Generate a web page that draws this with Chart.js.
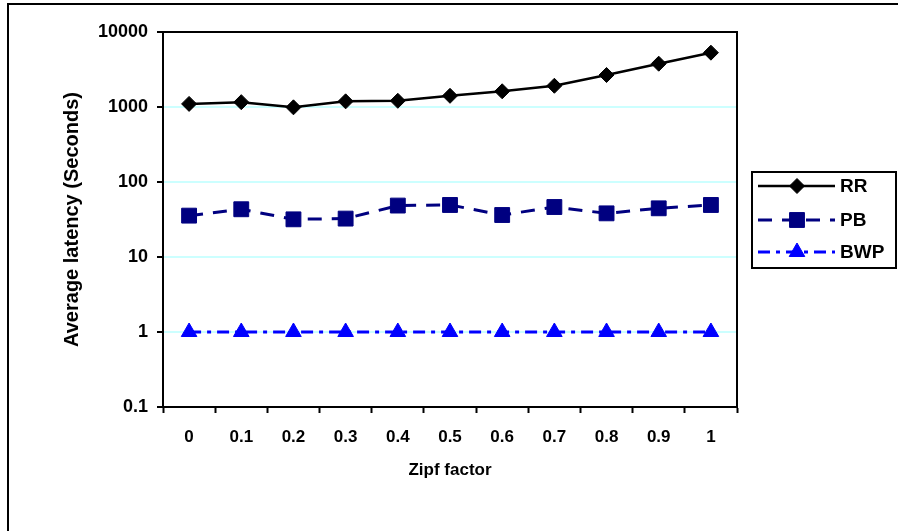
<!DOCTYPE html>
<html>
<head>
<meta charset="utf-8">
<script src="https://cdn.jsdelivr.net/npm/chart.js@4.4.1/dist/chart.umd.min.js"></script>
<style>
  body { margin: 0; background: #fff; }
  #wrap { width: 898px; height: 531px; }
</style>
</head>
<body>
<div id="wrap"><canvas id="grafico" width="898" height="531"></canvas></div>
<script>
// datos
var zipf = ["0", "0.1", "0.2", "0.3", "0.4", "0.5", "0.6", "0.7", "0.8", "0.9", "1"];
var rr = [1100, 1160, 990, 1190, 1210, 1410, 1620, 1920, 2670, 3780, 5300];
var pb = [35.6, 43.3, 31.8, 32.5, 48.5, 49.4, 36.3, 46.4, 38.2, 44.6, 49.4];
var bwp = [1, 1, 1, 1, 1, 1, 1, 1, 1, 1, 1];
var yTicks = [0.1, 1, 10, 100, 1000, 10000];

var fuente = "'Liberation Sans', Arial, sans-serif";

// marco exterior, borde del area y leyenda
var extras = {
  id: "extras",
  beforeDraw: function (chart) {
    var ctx = chart.ctx;
    ctx.save();
    ctx.fillStyle = "#fff";
    ctx.fillRect(0, 0, chart.width, chart.height);
    ctx.strokeStyle = "#000";
    ctx.lineWidth = 2;
    ctx.beginPath();
    ctx.moveTo(8, 531);
    ctx.lineTo(8, 4);
    ctx.lineTo(898, 4);
    ctx.stroke();
    ctx.restore();
  },
  beforeDatasetsDraw: function (chart) {
    var a = chart.chartArea;
    var ctx = chart.ctx;
    ctx.save();
    ctx.strokeStyle = "#000";
    ctx.lineWidth = 2;
    ctx.strokeRect(a.left, a.top, a.right - a.left, a.bottom - a.top);
    ctx.restore();
  },
  afterDraw: function (chart) {
    var ctx = chart.ctx;
    ctx.save();
    ctx.strokeStyle = "#000";
    ctx.lineWidth = 2;
    ctx.strokeRect(752, 172, 144, 96);
    var filas = [186, 220, 252];
    chart.data.datasets.forEach(function (ds, i) {
      var y = filas[i];
      ctx.save();
      ctx.strokeStyle = ds.borderColor;
      ctx.lineWidth = ds.borderWidth;
      ctx.setLineDash(ds.borderDash || []);
      ctx.beginPath();
      ctx.moveTo(758, y);
      ctx.lineTo(835, y);
      ctx.stroke();
      ctx.setLineDash([]);
      ctx.fillStyle = ds.pointBackgroundColor;
      ctx.strokeStyle = ds.borderColor;
      ctx.lineWidth = 1;
      Chart.helpers.drawPoint(ctx, {
        pointStyle: ds.pointStyle,
        radius: ds.pointRadius,
        rotation: 0,
        borderWidth: 1
      }, 797, y);
      ctx.restore();
      ctx.fillStyle = "#000";
      ctx.font = "bold 19px " + fuente;
      ctx.textBaseline = "middle";
      ctx.fillText(ds.label, 840, y + 1);
    });
    ctx.restore();
  }
};

var config = {
  type: "line",
  data: {
    labels: zipf,
    datasets: [{
      label: "RR",
      data: rr,
      borderColor: "#000000",
      backgroundColor: "#000000",
      pointBackgroundColor: "#000000",
      borderWidth: 2.5,
      pointStyle: "rectRot",
      pointRadius: 7.5,
      pointBorderWidth: 1
    }, {
      label: "PB",
      data: pb,
      borderColor: "#000080",
      backgroundColor: "#000080",
      pointBackgroundColor: "#000080",
      borderWidth: 3,
      borderDash: [14, 10],
      pointStyle: "rect",
      pointRadius: 10.5,
      pointBorderWidth: 1
    }, {
      label: "BWP",
      data: bwp,
      borderColor: "#0000ff",
      backgroundColor: "#0000ff",
      pointBackgroundColor: "#0000ff",
      borderWidth: 3,
      borderDash: [12, 6, 4, 6],
      pointStyle: "triangle",
      pointRadius: 9,
      pointBorderWidth: 1
    }]
  },
  options: {
    responsive: false,
    animation: false,
    layout: { padding: { left: 0, top: 32, right: 161, bottom: 0 } },
    plugins: {
      legend: { display: false },
      tooltip: { enabled: false }
    },
    scales: {
      x: {
        offset: true,
        grid: {
          offset: true,
          drawOnChartArea: false,
          tickColor: "#000",
          tickWidth: 2,
          tickLength: 6
        },
        border: { color: "#000", width: 2 },
        ticks: {
          color: "#000",
          padding: 14,
          maxRotation: 0,
          font: { family: fuente, size: 17, weight: "bold" }
        },
        title: {
          display: true,
          text: "Zipf factor",
          color: "#000",
          padding: { top: 0, bottom: 50 },
          font: { family: fuente, size: 17, weight: "bold" }
        },
        afterFit: function (scale) { scale.height = 124; }
      },
      y: {
        type: "logarithmic",
        min: 0.1,
        max: 10000,
        grid: {
          color: "#ccffff",
          lineWidth: 2,
          tickColor: "#000",
          tickWidth: 2,
          tickLength: 6
        },
        border: { color: "#000", width: 2 },
        ticks: {
          color: "#000",
          padding: 9,
          font: { family: fuente, size: 18, weight: "bold" },
          callback: function (v) { return String(v); }
        },
        afterBuildTicks: function (scale) {
          scale.ticks = yTicks.map(function (v) { return { value: v }; });
        },
        title: {
          display: true,
          text: "Average latency (Seconds)",
          color: "#000",
          padding: { top: 60, bottom: 0 },
          font: { family: fuente, size: 20, weight: "bold" }
        },
        afterFit: function (scale) { scale.width = 163; }
      }
    }
  },
  plugins: [extras]
};

new Chart(document.getElementById("grafico").getContext("2d"), config);
</script>
</body>
</html>
